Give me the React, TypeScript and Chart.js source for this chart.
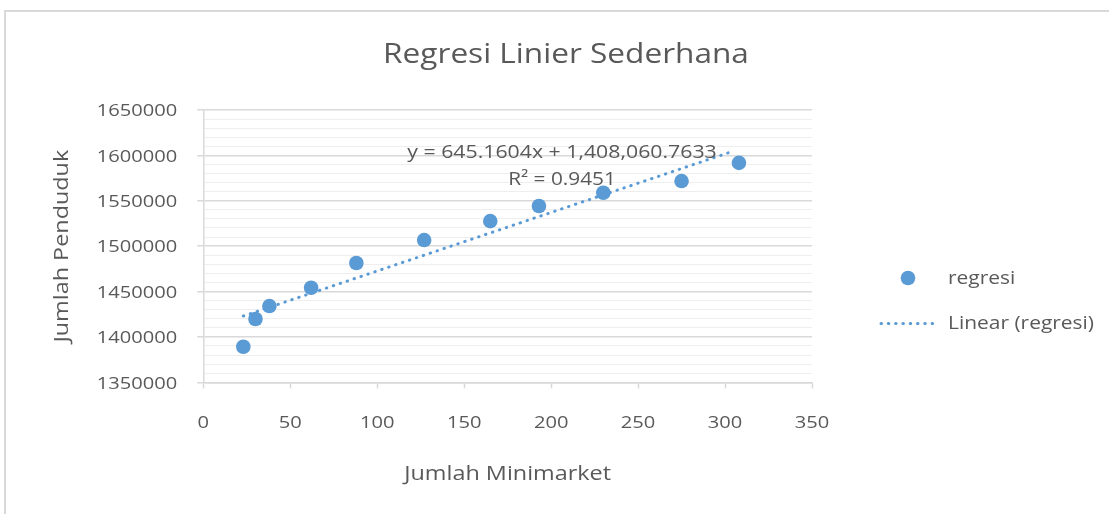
import React, { useEffect, useRef } from 'react';
import { Chart, registerables } from 'chart.js';

Chart.register(...registerables);

// ---- text ----
const TITLE = 'Regresi Linier Sederhana';
const X_TITLE = 'Jumlah Minimarket';
const Y_TITLE = 'Jumlah Penduduk';
const SERIES_NAME = 'regresi';
const TREND_NAME = 'Linear (regresi)';
const EQUATION = 'y = 645.1604x + 1,408,060.7633';
const R_SQUARED = 'R² = 0.9451';

// ---- data ----
const minimarket = [23, 30, 38, 62, 88, 127, 165, 193, 230, 275, 308];
const penduduk = [1389200, 1419700, 1434000, 1454200, 1481400, 1506700, 1527600, 1544200, 1558800, 1571700, 1591800];
const trendX = [23, 304];
const trendY = [1423000, 1604200];

// ---- axes ----
const X_MIN = 0;
const X_MAX = 350;
const X_STEP = 50;
const Y_MIN = 1350000;
const Y_MAX = 1650000;
const Y_MAJOR = 50000;
const Y_MINOR = 10000;

const BLUE = '#5b9bd5';
const TEXT = '#595959';
const FONT = '"Open Sans", "Noto Sans", sans-serif';
const MAJOR_GRID = '#d9d9d9';
const MINOR_GRID = '#eeeeee';
const STRETCH = 1.17;

function stretchedText(
  ctx: CanvasRenderingContext2D,
  text: string,
  x: number,
  y: number,
  size: number,
  align: CanvasTextAlign,
  rotate = false,
) {
  ctx.save();
  ctx.translate(x, y);
  if (rotate) ctx.rotate(-Math.PI / 2);
  ctx.scale(STRETCH, 1);
  ctx.font = `${size}px ${FONT}`;
  ctx.textAlign = align;
  ctx.textBaseline = 'middle';
  ctx.fillStyle = TEXT;
  ctx.fillText(text, 0, 0);
  ctx.restore();
}

const overlayPlugin = {
  id: 'overlay',
  afterDatasetsDraw(chart: any) {
    const ctx = chart.ctx as CanvasRenderingContext2D;
    stretchedText(ctx, EQUATION, 562, 153, 18.2, 'center');
    stretchedText(ctx, R_SQUARED, 562, 180.3, 17.8, 'center');
  },
  afterDraw(chart: any) {
    const ctx = chart.ctx as CanvasRenderingContext2D;
    const xs = chart.scales.x;
    const ys = chart.scales.y;
    // tick labels
    xs.ticks.forEach((t: any) => {
      stretchedText(ctx, String(t.value), xs.getPixelForValue(t.value), xs.top + 40.7, 17.2, 'center');
    });
    ys.ticks.forEach((t: any) => {
      if (t.value % Y_MAJOR !== 0) return;
      stretchedText(ctx, String(t.value), ys.left + ys.width - 26, ys.getPixelForValue(t.value) + 1.4, 17.2, 'right');
    });
    // axis titles
    stretchedText(ctx, X_TITLE, (chart.chartArea.left + chart.chartArea.right) / 2, 474, 20, 'center');
    stretchedText(ctx, Y_TITLE, 62, (chart.chartArea.top + chart.chartArea.bottom) / 2, 20, 'center', true);
    // title
    stretchedText(ctx, TITLE, 566, 55.6, 27, 'center');
    // legend
    ctx.save();
    ctx.beginPath();
    ctx.arc(908, 278, 7.3, 0, Math.PI * 2);
    ctx.fillStyle = BLUE;
    ctx.fill();
    ctx.beginPath();
    ctx.strokeStyle = BLUE;
    ctx.lineWidth = 3;
    ctx.lineCap = 'round';
    ctx.setLineDash([0.5, 6.8]);
    ctx.moveTo(881, 323.5);
    ctx.lineTo(937, 323.5);
    ctx.stroke();
    ctx.restore();
    stretchedText(ctx, SERIES_NAME, 948, 279, 17.9, 'left');
    stretchedText(ctx, TREND_NAME, 948, 324, 17.9, 'left');
  },
};

export default function App() {
  const canvasRef = useRef<HTMLCanvasElement | null>(null);

  useEffect(() => {
    if (!canvasRef.current) return;
    const chart = new Chart(canvasRef.current, {
      type: 'scatter',
      data: {
        datasets: [
          {
            type: 'scatter',
            label: SERIES_NAME,
            data: minimarket.map((x, i) => ({ x, y: penduduk[i] })),
            backgroundColor: BLUE,
            borderColor: BLUE,
            pointRadius: 7.3,
            pointHoverRadius: 7.3,
            borderWidth: 0,
            order: 0,
          },
          {
            type: 'line',
            label: TREND_NAME,
            data: trendX.map((x, i) => ({ x, y: trendY[i] })),
            borderColor: BLUE,
            borderWidth: 3,
            borderCapStyle: 'round',
            borderDash: [0.5, 6.8],
            pointRadius: 0,
            fill: false,
            tension: 0,
            order: 1,
          } as any,
        ],
      },
      options: {
        responsive: false,
        animation: false,
        events: [],
        layout: { padding: { left: 46, right: 297, top: 110, bottom: 28 } },
        plugins: {
          legend: { display: false },
          title: { display: false },
          tooltip: { enabled: false },
        },
        scales: {
          x: {
            type: 'linear',
            min: X_MIN,
            max: X_MAX,
            afterFit: (s: any) => { s.height = 103.7; },
            ticks: {
              display: false,
              stepSize: X_STEP,
              maxRotation: 0,
            },
            grid: {
              drawOnChartArea: false,
              drawTicks: true,
              tickLength: 6,
              tickColor: MAJOR_GRID,
              tickWidth: 1.5,
            },
            border: { display: true, color: MAJOR_GRID, width: 1.5 },
            title: { display: false },
          },
          y: {
            type: 'linear',
            min: Y_MIN,
            max: Y_MAX,
            afterFit: (s: any) => { s.width = 157.3; },
            ticks: {
              display: false,
              stepSize: Y_MINOR,
              autoSkip: false,
            },
            grid: {
              drawTicks: true,
              tickLength: 6,
              color: (c: any) => (c.tick && c.tick.value % Y_MAJOR === 0 ? MAJOR_GRID : MINOR_GRID),
              tickColor: (c: any) => (c.tick && c.tick.value % Y_MAJOR === 0 ? MAJOR_GRID : 'rgba(0,0,0,0)'),
              lineWidth: (c: any) => (c.tick && c.tick.value % Y_MAJOR === 0 ? 1.5 : 1),
              tickWidth: 1.5,
            },
            border: { display: true, color: MAJOR_GRID, width: 1.5 },
            title: { display: false },
          },
        },
      },
      plugins: [overlayPlugin],
    } as any);
    return () => chart.destroy();
  }, []);

  return (
    <div style={{ position: 'fixed', left: 0, top: 0, width: 1109, height: 514, overflow: 'hidden', background: '#ffffff' }}>
      <div
        style={{
          position: 'absolute',
          left: 4,
          top: 10,
          width: 1200,
          height: 600,
          border: '2px solid #d9d9d9',
          boxSizing: 'border-box',
        }}
      />
      <canvas ref={canvasRef} width={1109} height={514} style={{ position: 'absolute', left: 0, top: 0, width: 1109, height: 514 }} />
    </div>
  );
}
